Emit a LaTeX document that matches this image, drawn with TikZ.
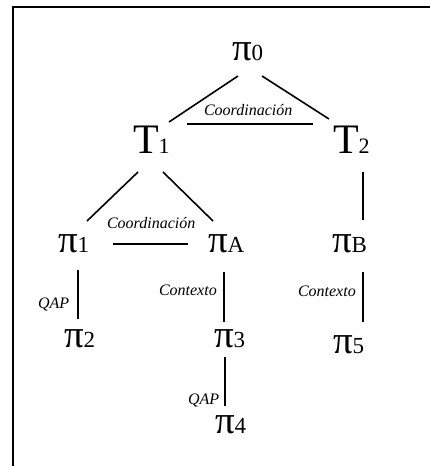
\documentclass[tikz,border=0pt]{standalone}
\usepackage{fontspec}
\setmainfont{Liberation Serif}
\tikzset{
  sym/.style={anchor=base west, inner sep=0pt, outer sep=0pt},
  lbl/.style={anchor=base west, inner sep=0pt, outer sep=0pt, font=\fontsize{16}{16}\selectfont\itshape},
  conn/.style={line width=1.6pt},
}
\newcommand{\bigpi}[1]{{\fontsize{39}{39}\selectfont π}{\fontsize{23}{23}\selectfont #1}}
\newcommand{\bigT}[1]{{\fontsize{42}{42}\selectfont T}{\fontsize{22}{22}\selectfont #1}}
\begin{document}
\begin{tikzpicture}[x=1pt,y=-1pt]
\useasboundingbox (0,0) rectangle (430,466);
\fill[white] (0,0) rectangle (430,466);
% frame
\draw[line width=2pt] (13,466) -- (13,7) -- (430,7);
% nodes
\node[sym] (pi0) at (232,60) {\bigpi{0}};
\node[sym] (T1) at (133,153) {\bigT{1}};
\node[sym] (T2) at (333,153) {\bigT{2}};
\node[sym] (pi1) at (58,252) {\bigpi{1}};
\node[sym] (piA) at (208,252) {\bigpi{A}};
\node[sym] (piB) at (332,252) {\bigpi{B}};
\node[sym] (pi2) at (64,347) {\bigpi{2}};
\node[sym] (pi3) at (214,347) {\bigpi{3}};
\node[sym] (pi5) at (333,353) {\bigpi{5}};
\node[sym] (pi4) at (215,433) {\bigpi{4}};
% labels
\node[lbl] (c1) at (204,115) {Coordinación};
\node[lbl] (c2) at (107,228) {Coordinación};
\node[lbl] (q1) at (38,308) {QAP};
\node[lbl] (k1) at (159,295) {Contexto};
\node[lbl] (k2) at (298,296) {Contexto};
\node[lbl] (q2) at (188,404) {QAP};
% connector ends
\coordinate (a0) at (238,76);   \coordinate (a1) at (169,122);
\coordinate (b0) at (262,76);   \coordinate (b1) at (329,119);
\coordinate (h0) at (187,124);  \coordinate (h1) at (313,124);
\coordinate (d0) at (138,172);  \coordinate (d1) at (87,221);
\coordinate (e0) at (163,172);  \coordinate (e1) at (213,221);
\coordinate (f0) at (363,172);  \coordinate (f1) at (363,220);
\coordinate (g0) at (113,244);  \coordinate (g1) at (188,244);
\coordinate (p0) at (78,270);   \coordinate (p1) at (78,319);
\coordinate (r0) at (224,272);  \coordinate (r1) at (224,322);
\coordinate (s0) at (363,272);  \coordinate (s1) at (363,322);
\coordinate (t0) at (225,357);  \coordinate (t1) at (225,406);
\draw[conn] (a0) -- (a1);
\draw[conn] (b0) -- (b1);
\draw[conn] (h0) -- (h1);
\draw[conn] (d0) -- (d1);
\draw[conn] (e0) -- (e1);
\draw[conn] (f0) -- (f1);
\draw[conn] (g0) -- (g1);
\draw[conn] (p0) -- (p1);
\draw[conn] (r0) -- (r1);
\draw[conn] (s0) -- (s1);
\draw[conn] (t0) -- (t1);
\end{tikzpicture}
\end{document}
